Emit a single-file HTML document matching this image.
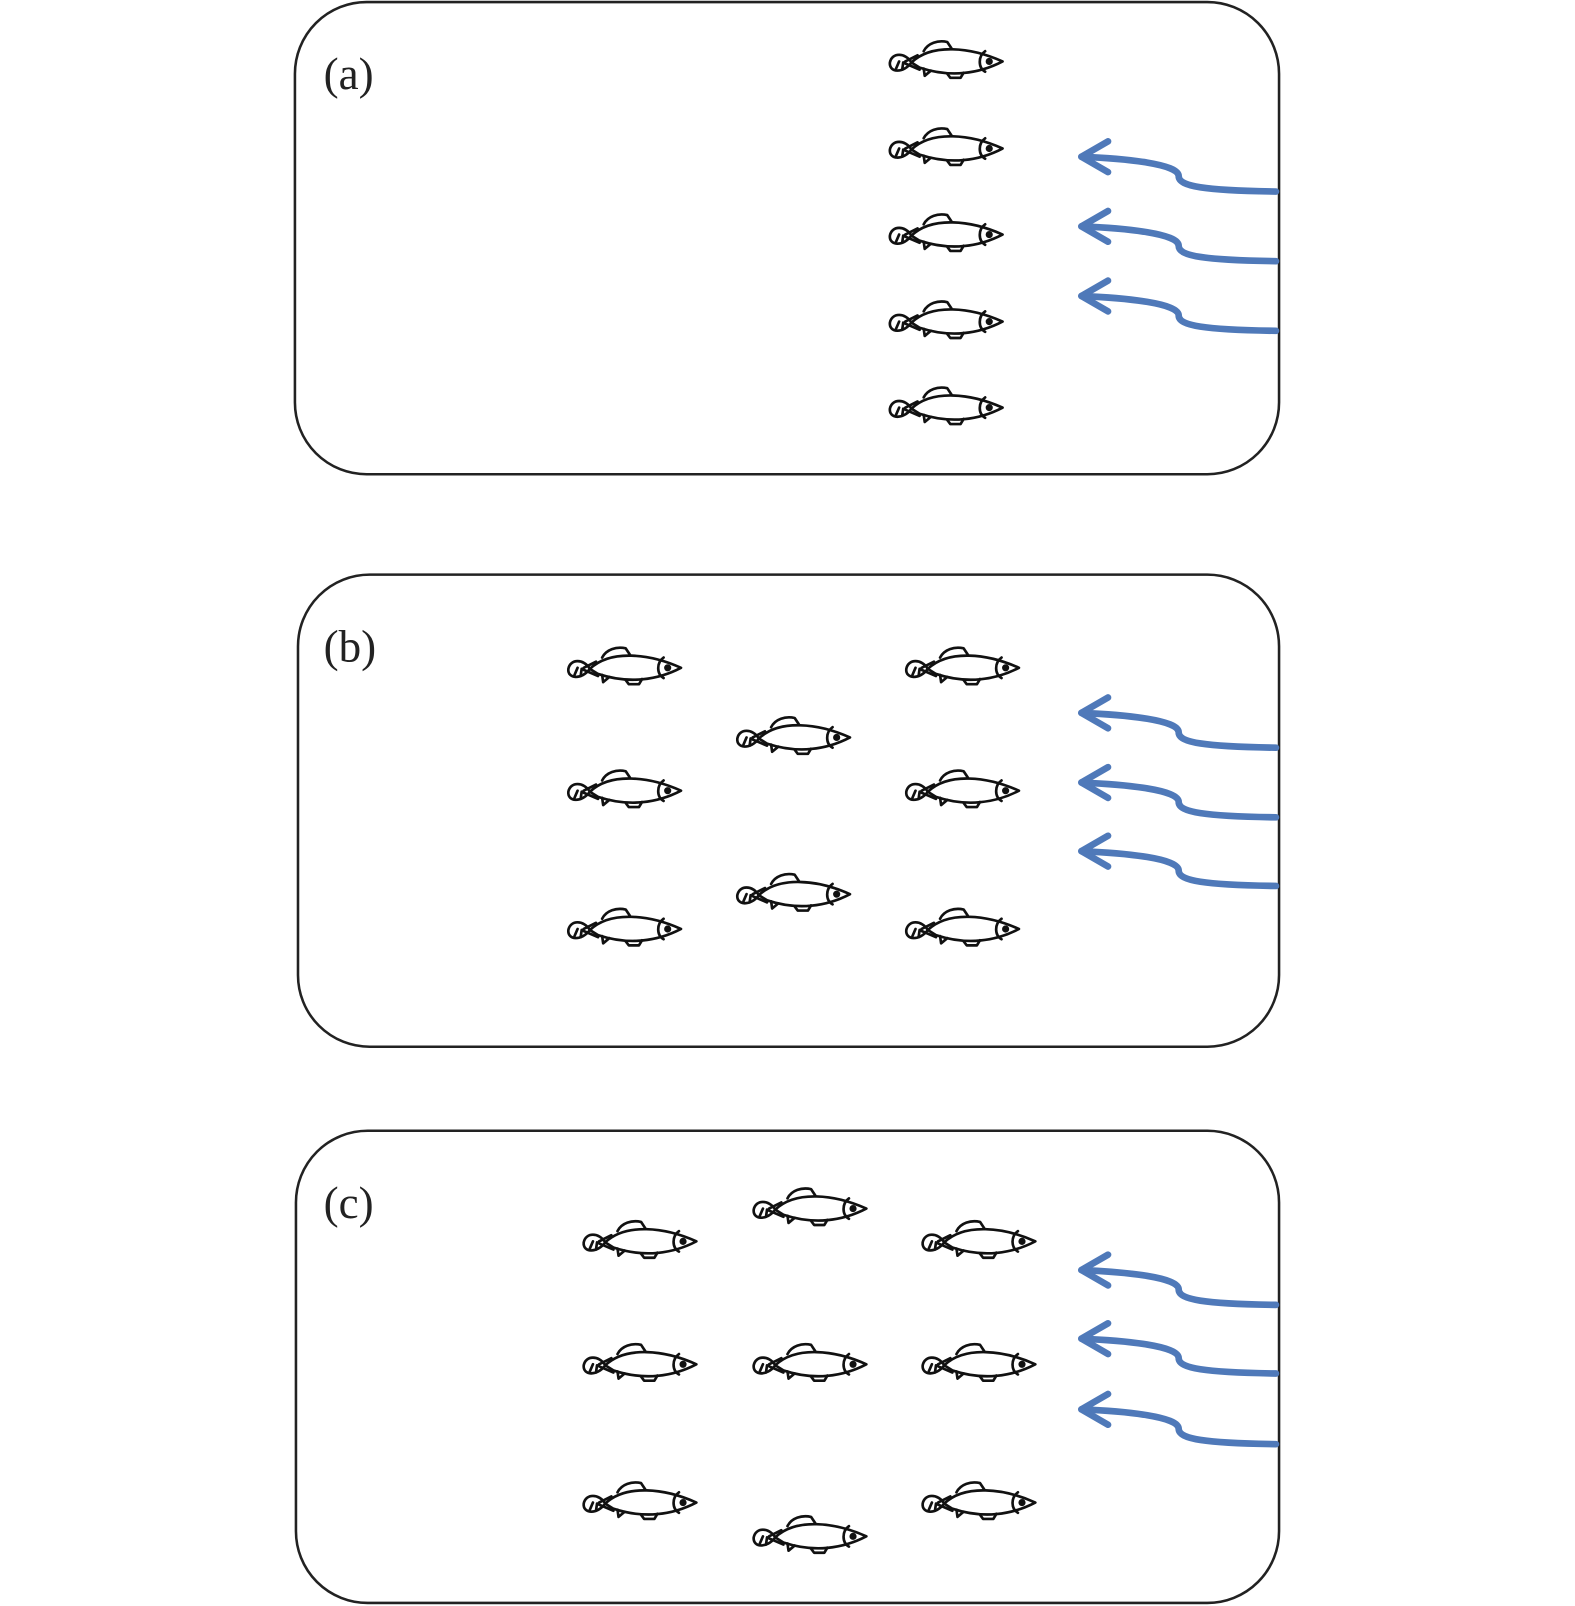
<!DOCTYPE html>
<html><head><style>html,body{margin:0;padding:0;background:#fff}svg{display:block}</style></head>
<body>
<svg width="1575" height="1606" viewBox="0 0 1538 1568" preserveAspectRatio="none" xmlns="http://www.w3.org/2000/svg">
<defs>
<g id="f" fill="none" stroke="#111" stroke-width="2.6" stroke-linecap="round" stroke-linejoin="round">
<path d="M22,1 C16,-9 3,-9 1,1 C0,11 14,12 22,1"/>
<path d="M7,7 L10,0 M13,8 L14,1"/>
<path d="M16,0 L28,-6 M16,2 L30,8"/>
<path d="M22,1 C42,-18 80,-14 111,0 C88,12 60,16 30,6 Z"/>
<path d="M34,-10 C38,-18 48,-21 57,-19 L61,-13"/>
<path d="M34,7 L35,14 L41,9"/>
<path d="M57,12 L60,16 L70,16 L73,11"/>
<path d="M94,-10 C87,-5 87,6 94,10"/>
<circle cx="98" cy="0" r="2.2" fill="#111"/>
</g>
<g id="ar" fill="none" stroke="#4f79b9" stroke-width="6.5" stroke-linecap="round" stroke-linejoin="round">
<path d="M190,34 C120,33 95,29 95,19 C95,7 45,2 0,0"/>
<path d="M26,-15 L0,0 L26,15"/>
</g>
</defs>
<g fill="none" stroke="#222" stroke-width="2.5">
<rect x="288" y="2" width="961" height="461" rx="70"/>
<rect x="291" y="561" width="958" height="461" rx="70"/>
<rect x="289" y="1104" width="960" height="461" rx="70"/>
</g>
<g font-family="Liberation Serif, serif" font-size="44" fill="#222">
<text x="316" y="87">(a)</text>
<text x="316" y="646">(b)</text>
<text x="316" y="1189">(c)</text>
</g>
<use href="#f" x="868" y="60"/><use href="#f" x="868" y="145"/><use href="#f" x="868" y="229"/><use href="#f" x="868" y="314"/><use href="#f" x="868" y="398"/>
<use href="#f" x="554" y="652"/><use href="#f" x="884" y="652"/><use href="#f" x="719" y="720"/><use href="#f" x="554" y="772"/><use href="#f" x="884" y="772"/><use href="#f" x="719" y="873"/><use href="#f" x="554" y="907"/><use href="#f" x="884" y="907"/>
<use href="#f" x="569" y="1212"/><use href="#f" x="735" y="1180"/><use href="#f" x="900" y="1212"/><use href="#f" x="569" y="1332"/><use href="#f" x="735" y="1332"/><use href="#f" x="900" y="1332"/><use href="#f" x="569" y="1467"/><use href="#f" x="735" y="1500"/><use href="#f" x="900" y="1467"/>
<use href="#ar" x="1056" y="153"/><use href="#ar" x="1056" y="221"/><use href="#ar" x="1056" y="289"/>
<use href="#ar" x="1056" y="696"/><use href="#ar" x="1056" y="764"/><use href="#ar" x="1056" y="831"/>
<use href="#ar" x="1056" y="1240"/><use href="#ar" x="1056" y="1307"/><use href="#ar" x="1056" y="1376"/>
</svg>
</body></html>
